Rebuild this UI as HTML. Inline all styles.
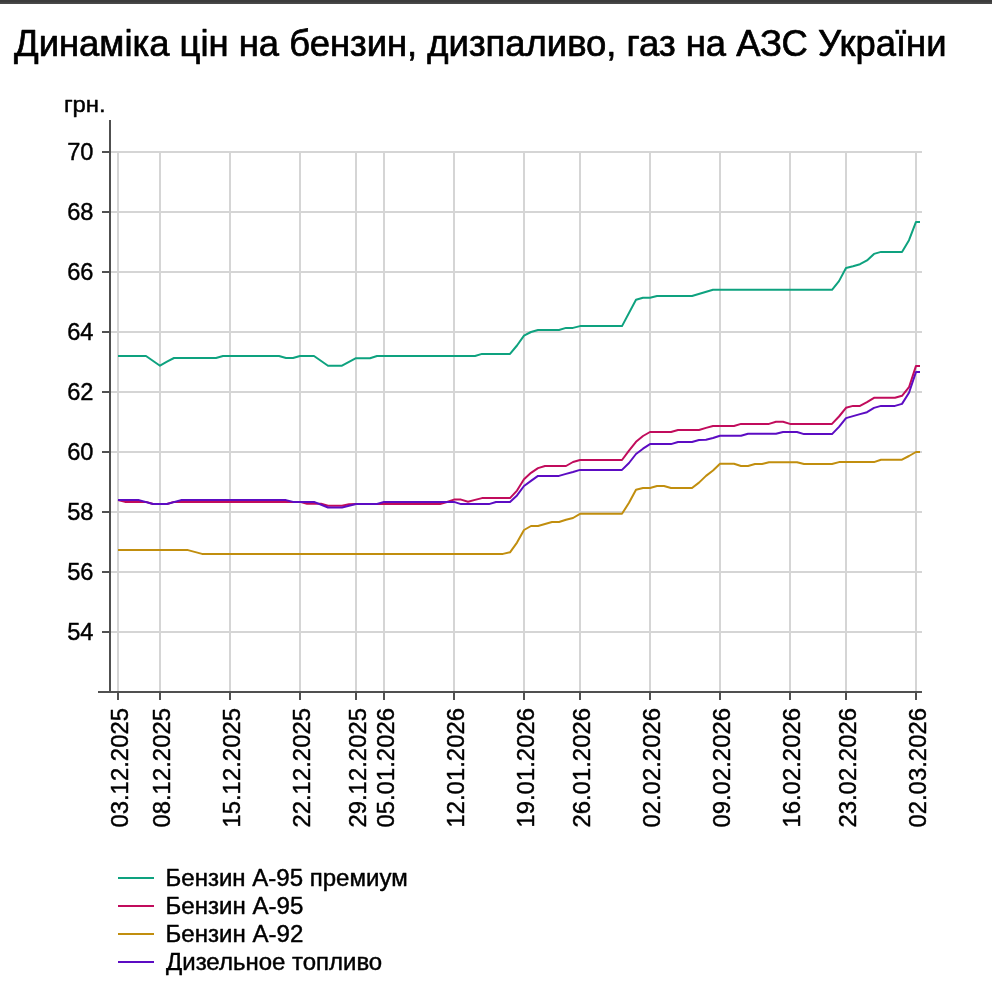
<!DOCTYPE html>
<html lang="uk"><head><meta charset="utf-8"><title>Динаміка цін</title>
<style>html,body{margin:0;padding:0;background:#fff;}body{width:992px;height:986px;overflow:hidden;position:relative;font-family:"Liberation Sans",sans-serif;}svg{position:absolute;left:0;top:0;display:block;}text{font-family:"Liberation Sans",sans-serif;fill:#000;stroke:#000;stroke-linejoin:round;}svg{will-change:transform;}</style></head><body>
<svg width="992" height="986" viewBox="0 0 992 986">
<rect x="0" y="0" width="992" height="986" fill="#ffffff"/>
<rect x="0" y="0" width="992" height="2" fill="#3c3c3c"/><rect x="0" y="2" width="992" height="1" fill="#434343"/><rect x="0" y="3" width="992" height="1" fill="#494949"/>
<text stroke-width="0.7" x="14.0" y="55.6" font-size="36" textLength="932.5" lengthAdjust="spacingAndGlyphs">Динаміка цін на бензин, дизпаливо, газ на АЗС України</text>
<text stroke-width="0.45" x="63.9" y="112" font-size="22.8" textLength="41.8" lengthAdjust="spacingAndGlyphs">грн.</text>
<g stroke="#d5d5d5" stroke-width="2" fill="none">
<line x1="110" y1="632.0" x2="922" y2="632.0"/>
<line x1="110" y1="572.0" x2="922" y2="572.0"/>
<line x1="110" y1="512.0" x2="922" y2="512.0"/>
<line x1="110" y1="452.0" x2="922" y2="452.0"/>
<line x1="110" y1="392.0" x2="922" y2="392.0"/>
<line x1="110" y1="332.0" x2="922" y2="332.0"/>
<line x1="110" y1="272.0" x2="922" y2="272.0"/>
<line x1="110" y1="212.0" x2="922" y2="212.0"/>
<line x1="110" y1="152.0" x2="922" y2="152.0"/>
<line x1="118.0" y1="152.0" x2="118.0" y2="692"/>
<line x1="160.0" y1="152.0" x2="160.0" y2="692"/>
<line x1="230.0" y1="152.0" x2="230.0" y2="692"/>
<line x1="300.0" y1="152.0" x2="300.0" y2="692"/>
<line x1="356.0" y1="152.0" x2="356.0" y2="692"/>
<line x1="384.0" y1="152.0" x2="384.0" y2="692"/>
<line x1="454.0" y1="152.0" x2="454.0" y2="692"/>
<line x1="524.0" y1="152.0" x2="524.0" y2="692"/>
<line x1="580.0" y1="152.0" x2="580.0" y2="692"/>
<line x1="650.0" y1="152.0" x2="650.0" y2="692"/>
<line x1="720.0" y1="152.0" x2="720.0" y2="692"/>
<line x1="790.0" y1="152.0" x2="790.0" y2="692"/>
<line x1="846.0" y1="152.0" x2="846.0" y2="692"/>
<line x1="916.0" y1="152.0" x2="916.0" y2="692"/>
</g>
<g fill="none" stroke-width="2" stroke-linejoin="round" stroke-linecap="butt">
<path stroke="#0ea27f" d="M118,356 L146,356 L160,365.7 L167,361.7 L174,358 L216,358 L223,356 L279,356 L286,358 L293,358 L300,356 L314,356 L328,365.7 L342,365.7 L349,361.8 L356,358.2 L370,358.2 L377,356 L475,356 L482,353.9 L510,353.9 L517,345.5 L524,335.7 L531,332 L538,330 L559,330 L566,327.9 L573,327.9 L580,326.1 L622,326.1 L636,299.8 L643,297.7 L650,297.7 L657,296 L692,296 L713,289.8 L832,289.8 L839,281.1 L846,268 L853,266.3 L860,264.2 L867,260.4 L874,253.9 L881,251.9 L902,251.9 L909,240.2 L916,221.9 L920,221.9"/>
<path stroke="#c10c5c" d="M118,500.1 L125,501.9 L146,501.9 L153,504 L167,504 L174,501.9 L300,501.9 L307,503.7 L321,503.7 L328,505.8 L342,505.8 L349,504.2 L356,504 L440,504 L447,502 L454,499.6 L461,499.6 L468,501.8 L475,499.9 L482,498.1 L510,498.1 L517,490.6 L524,479.2 L531,472.8 L538,468.1 L545,466 L566,466 L573,462 L580,460 L622,460 L629,450.6 L636,441.8 L643,436 L650,432 L671,432 L678,430 L699,430 L706,427.9 L713,426 L734,426 L741,423.9 L769,423.9 L776,421.8 L783,421.8 L790,423.9 L832,423.9 L839,416.5 L846,407.8 L853,405.9 L860,405.9 L867,402.2 L874,397.8 L895,397.8 L902,395.8 L909,387.2 L916,365.9 L920,365.9"/>
<path stroke="#c18e0e" d="M118,550.1 L188,550.1 L202,553.9 L503,553.9 L510,552.3 L517,542.6 L524,530 L531,526 L538,526 L545,524 L552,522 L559,522 L566,519.8 L573,518 L580,513.8 L622,513.8 L629,502.8 L636,489.7 L643,488 L650,488 L657,486 L664,486 L671,488 L692,488 L699,482.6 L706,475.9 L713,470.5 L720,463.8 L734,463.8 L741,466 L748,466 L755,464 L762,464 L769,462.2 L797,462.2 L804,464 L832,464 L839,462.1 L874,462.1 L881,459.7 L902,459.7 L909,456 L916,452 L920,452"/>
<path stroke="#5c0cc3" d="M118,500.1 L139,500.1 L153,504 L167,504 L181,500.1 L286,500.1 L293,501.9 L314,501.9 L328,507.5 L342,507.5 L356,504 L377,504 L384,501.9 L454,501.9 L461,504.1 L489,504.1 L496,502 L510,502 L517,495.4 L524,486 L531,480.9 L538,475.9 L559,475.9 L566,473.9 L573,472 L580,469.9 L622,469.9 L629,463 L636,454 L643,448.7 L650,444.1 L671,444.1 L678,442 L692,442 L699,440 L706,439.8 L713,438 L720,435.8 L741,435.8 L748,433.8 L776,433.8 L783,432 L797,432 L804,434.1 L832,434.1 L839,426.9 L846,418.1 L853,416.1 L860,414.1 L867,412.2 L874,407.9 L881,405.9 L895,405.9 L902,403.9 L909,392.7 L916,372 L920,372"/>
</g>
<g stroke="#505050" stroke-width="2" fill="none">
<line x1="110" y1="120" x2="110" y2="693.0"/>
<line x1="98" y1="692" x2="922" y2="692"/>
<line x1="102" y1="632.0" x2="110" y2="632.0"/>
<line x1="102" y1="572.0" x2="110" y2="572.0"/>
<line x1="102" y1="512.0" x2="110" y2="512.0"/>
<line x1="102" y1="452.0" x2="110" y2="452.0"/>
<line x1="102" y1="392.0" x2="110" y2="392.0"/>
<line x1="102" y1="332.0" x2="110" y2="332.0"/>
<line x1="102" y1="272.0" x2="110" y2="272.0"/>
<line x1="102" y1="212.0" x2="110" y2="212.0"/>
<line x1="102" y1="152.0" x2="110" y2="152.0"/>
<line x1="118.0" y1="692" x2="118.0" y2="700"/>
<line x1="160.0" y1="692" x2="160.0" y2="700"/>
<line x1="230.0" y1="692" x2="230.0" y2="700"/>
<line x1="300.0" y1="692" x2="300.0" y2="700"/>
<line x1="356.0" y1="692" x2="356.0" y2="700"/>
<line x1="384.0" y1="692" x2="384.0" y2="700"/>
<line x1="454.0" y1="692" x2="454.0" y2="700"/>
<line x1="524.0" y1="692" x2="524.0" y2="700"/>
<line x1="580.0" y1="692" x2="580.0" y2="700"/>
<line x1="650.0" y1="692" x2="650.0" y2="700"/>
<line x1="720.0" y1="692" x2="720.0" y2="700"/>
<line x1="790.0" y1="692" x2="790.0" y2="700"/>
<line x1="846.0" y1="692" x2="846.0" y2="700"/>
<line x1="916.0" y1="692" x2="916.0" y2="700"/>
</g>
<g font-size="24.8" text-anchor="end" stroke-width="0.45">
<text x="93.5" y="640.0" textLength="26.3" lengthAdjust="spacingAndGlyphs">54</text>
<text x="93.5" y="580.0" textLength="26.3" lengthAdjust="spacingAndGlyphs">56</text>
<text x="93.5" y="520.0" textLength="26.3" lengthAdjust="spacingAndGlyphs">58</text>
<text x="93.5" y="460.0" textLength="26.3" lengthAdjust="spacingAndGlyphs">60</text>
<text x="93.5" y="400.0" textLength="26.3" lengthAdjust="spacingAndGlyphs">62</text>
<text x="93.5" y="340.0" textLength="26.3" lengthAdjust="spacingAndGlyphs">64</text>
<text x="93.5" y="280.0" textLength="26.3" lengthAdjust="spacingAndGlyphs">66</text>
<text x="93.5" y="220.0" textLength="26.3" lengthAdjust="spacingAndGlyphs">68</text>
<text x="93.5" y="160.0" textLength="26.3" lengthAdjust="spacingAndGlyphs">70</text>
</g>
<g font-size="24.8" text-anchor="end" stroke-width="0.45">
<text transform="translate(127.8,708.0) rotate(-90)" textLength="119.6" lengthAdjust="spacingAndGlyphs">03.12.2025</text>
<text transform="translate(169.8,708.0) rotate(-90)" textLength="119.6" lengthAdjust="spacingAndGlyphs">08.12.2025</text>
<text transform="translate(239.8,708.0) rotate(-90)" textLength="119.6" lengthAdjust="spacingAndGlyphs">15.12.2025</text>
<text transform="translate(309.8,708.0) rotate(-90)" textLength="119.6" lengthAdjust="spacingAndGlyphs">22.12.2025</text>
<text transform="translate(365.8,708.0) rotate(-90)" textLength="119.6" lengthAdjust="spacingAndGlyphs">29.12.2025</text>
<text transform="translate(393.8,708.0) rotate(-90)" textLength="119.6" lengthAdjust="spacingAndGlyphs">05.01.2026</text>
<text transform="translate(463.8,708.0) rotate(-90)" textLength="119.6" lengthAdjust="spacingAndGlyphs">12.01.2026</text>
<text transform="translate(533.8,708.0) rotate(-90)" textLength="119.6" lengthAdjust="spacingAndGlyphs">19.01.2026</text>
<text transform="translate(589.8,708.0) rotate(-90)" textLength="119.6" lengthAdjust="spacingAndGlyphs">26.01.2026</text>
<text transform="translate(659.8,708.0) rotate(-90)" textLength="119.6" lengthAdjust="spacingAndGlyphs">02.02.2026</text>
<text transform="translate(729.8,708.0) rotate(-90)" textLength="119.6" lengthAdjust="spacingAndGlyphs">09.02.2026</text>
<text transform="translate(799.8,708.0) rotate(-90)" textLength="119.6" lengthAdjust="spacingAndGlyphs">16.02.2026</text>
<text transform="translate(855.8,708.0) rotate(-90)" textLength="119.6" lengthAdjust="spacingAndGlyphs">23.02.2026</text>
<text transform="translate(925.8,708.0) rotate(-90)" textLength="119.6" lengthAdjust="spacingAndGlyphs">02.03.2026</text>
</g>
<g font-size="23.5" stroke-width="0.45">
<line x1="118" y1="878" x2="154" y2="878" stroke="#0ea27f" stroke-width="2"/>
<text x="165.5" y="885.5" textLength="242.2" lengthAdjust="spacingAndGlyphs">Бензин А-95 премиум</text>
<line x1="118" y1="906" x2="154" y2="906" stroke="#c10c5c" stroke-width="2"/>
<text x="165.5" y="913.5" textLength="137.8" lengthAdjust="spacingAndGlyphs">Бензин А-95</text>
<line x1="118" y1="934" x2="154" y2="934" stroke="#c18e0e" stroke-width="2"/>
<text x="165.5" y="941.5" textLength="137.8" lengthAdjust="spacingAndGlyphs">Бензин А-92</text>
<line x1="118" y1="962" x2="154" y2="962" stroke="#5c0cc3" stroke-width="2"/>
<text x="166" y="969.5" textLength="216.2" lengthAdjust="spacingAndGlyphs">Дизельное топливо</text>
</g>
</svg></body></html>
